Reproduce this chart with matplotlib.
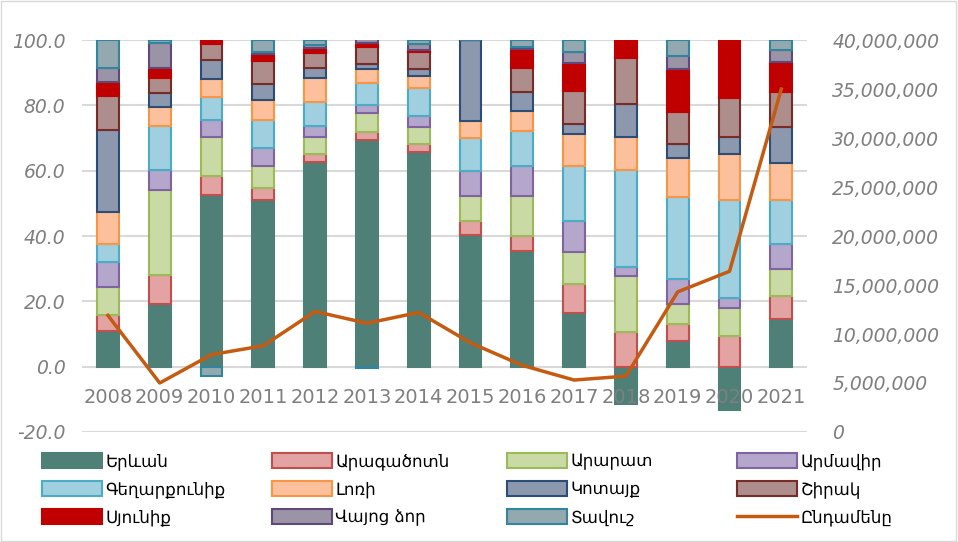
import matplotlib
matplotlib.use("Agg")
import matplotlib.pyplot as plt
import numpy as np
from matplotlib.patches import Patch, Rectangle
from matplotlib.lines import Line2D
from matplotlib.ticker import FuncFormatter

# տարիներ
years = ["2008", "2009", "2010", "2011", "2012", "2013", "2014",
         "2015", "2016", "2017", "2018", "2019", "2020", "2021"]

# մարզերի տոկոսային բաժինները (կարդացված նկարից)
yerevan    = [11.0, 19.1, 52.6, 50.9, 62.8, 69.5, 65.6, 40.4, 35.3, 16.3, -11.5, 7.9, -13.4, 14.6]
aragatsotn = [4.8, 8.9, 5.7, 3.8, 2.4, 2.5, 2.6, 4.2, 4.7, 9.0, 10.7, 5.3, 9.5, 7.1]
ararat     = [8.6, 26.0, 11.9, 6.6, 5.2, 5.6, 5.1, 7.8, 12.2, 9.8, 17.0, 5.9, 8.5, 8.3]
armavir    = [7.5, 6.1, 5.4, 5.6, 3.4, 2.6, 3.6, 7.4, 9.1, 9.4, 2.8, 7.8, 2.9, 7.7]
gegharkunik = [5.6, 13.7, 7.1, 8.6, 7.3, 6.8, 8.3, 10.1, 11.0, 17.1, 29.8, 25.0, 30.0, 13.2]
lori       = [10.0, 5.6, 5.4, 6.1, 7.3, 4.1, 3.7, 5.4, 6.1, 9.7, 9.9, 11.9, 14.1, 11.5]
kotayk     = [25.1, 4.3, 5.8, 4.9, 3.0, 1.5, 2.4, 24.7, 5.8, 3.0, 10.2, 4.4, 5.4, 11.1]
shirak     = [10.4, 4.8, 4.8, 7.1, 4.8, 5.3, 5.2, 0.0, 7.4, 10.2, 14.1, 9.9, 11.9, 10.7]
syunik     = [4.2, 2.9, 4.3, 2.1, 1.5, 1.3, 0.5, 0.0, 5.6, 8.6, 17.0, 13.0, 31.1, 9.2]
vayots_dzor = [4.4, 7.8, 0.0, 0.7, 0.7, 1.3, 1.7, 0.0, 0.8, 3.3, 0.0, 3.9, 0.0, 3.5]
tavush     = [8.4, 0.8, -3.0, 3.6, 1.6, -0.5, 1.3, 0.0, 2.0, 3.6, 0.0, 5.0, 0.0, 3.1]

# ընդամենը (աջ առանցք)
total = [11.9e6, 5.0e6, 7.9e6, 8.8e6, 12.3e6, 11.1e6, 12.2e6,
         9.1e6, 6.8e6, 5.3e6, 5.7e6, 14.3e6, 16.4e6, 35.0e6]

names = ["Երևան", "Արագածոտն", "Արարատ", "Արմավիր", "Գեղարքունիք", "Լոռի",
         "Կոտայք", "Շիրակ", "Սյունիք", "Վայոց ձոր", "Տավուշ"]
series = [yerevan, aragatsotn, ararat, armavir, gegharkunik, lori,
          kotayk, shirak, syunik, vayots_dzor, tavush]
faces = ["#4E8078", "#E2A3A2", "#C9DAA4", "#B5A6CB", "#A0CFE0", "#FCC09C",
         "#8C98AE", "#AE8E8C", "#C00000", "#9B93A6", "#93A8AF"]
edges = ["#4E8078", "#C0504D", "#9BBB59", "#8064A2", "#4BACC6", "#F79646",
         "#2C4D75", "#772C2A", "#C00000", "#5F497A", "#31859C"]

plt.rcParams['font.family'] = ['DejaVu Sans']
fig = plt.figure(figsize=(9.58, 5.42), dpi=100)
ax = fig.add_axes([0.0856, 0.203, 0.757, 0.723])

x = np.arange(len(years))
pos_base = np.zeros(len(years))
neg_base = np.zeros(len(years))
for vals, fc, ec in zip(series, faces, edges):
    v = np.array(vals)
    bottom = np.where(v >= 0, pos_base, neg_base)
    ax.bar(x, v, 0.42, bottom=bottom, color=fc, edgecolor=ec, linewidth=1.5, zorder=3)
    pos_base += np.where(v >= 0, v, 0)
    neg_base += np.where(v < 0, v, 0)

ax.set_ylim(-20, 100)
ax.set_xlim(-0.5, len(years) - 0.5)
ax.set_yticks(np.arange(-20, 101, 20))
ax.yaxis.set_major_formatter(FuncFormatter(lambda v, p: f"{v:.1f}"))
ax.grid(axis="y", color="#D9D9D9", linewidth=1.5, zorder=0)
for s in ax.spines.values():
    s.set_visible(False)
ax.set_xticks([])
ax.tick_params(axis="y", length=0, pad=12, labelsize=13.5, labelcolor="#7F7F7F")
for t in ax.get_yticklabels():
    t.set_fontstyle("italic")

# տարիների պիտակները զրոյական գծի տակ, սյուների վրայով
for xi, yr in zip(x, years):
    ax.annotate(yr, (xi, 0), xytext=(0, -22.5), textcoords="offset points",
                ha="center", va="center", fontsize=14, color="#7F7F7F", zorder=10,
                annotation_clip=False)

ax2 = ax.twinx()
ax2.plot(x, total, color="#C55A11", linewidth=2.5, zorder=5)
ax2.set_ylim(0, 40e6)
ax2.set_yticks(np.arange(0, 40e6 + 1, 5e6))
ax2.yaxis.set_major_formatter(FuncFormatter(lambda v, p: f"{v:,.0f}"))
ax2.tick_params(axis="y", length=0, pad=18, labelsize=13.5, labelcolor="#7F7F7F")
for t in ax2.get_yticklabels():
    t.set_fontstyle("italic")
for s in ax2.spines.values():
    s.set_visible(False)

# լեգենդ՝ 4 հավասար սյունակ
handles = [Patch(facecolor=fc, edgecolor=ec, linewidth=1.5) for fc, ec in zip(faces, edges)]
handles.append(Line2D([0], [0], color="#C55A11", linewidth=2.5))
labels = names + ["Ընդամենը"]
col_left = [42, 272, 507, 737]
for c, left in enumerate(col_left):
    fig.legend(handles[c::4], labels[c::4], loc="upper left",
               bbox_to_anchor=(left / 958, 1 - 452 / 542),
               frameon=False, fontsize=12, handlelength=3.6, handleheight=1.0,
               handletextpad=0.2, labelspacing=0.62, borderaxespad=0, borderpad=0)

fig.patches.append(Rectangle((0.001, 0.002), 0.997, 0.996, transform=fig.transFigure,
                             fill=False, edgecolor="#D9D9D9", linewidth=1))

fig.savefig("out.png", dpi=100)
